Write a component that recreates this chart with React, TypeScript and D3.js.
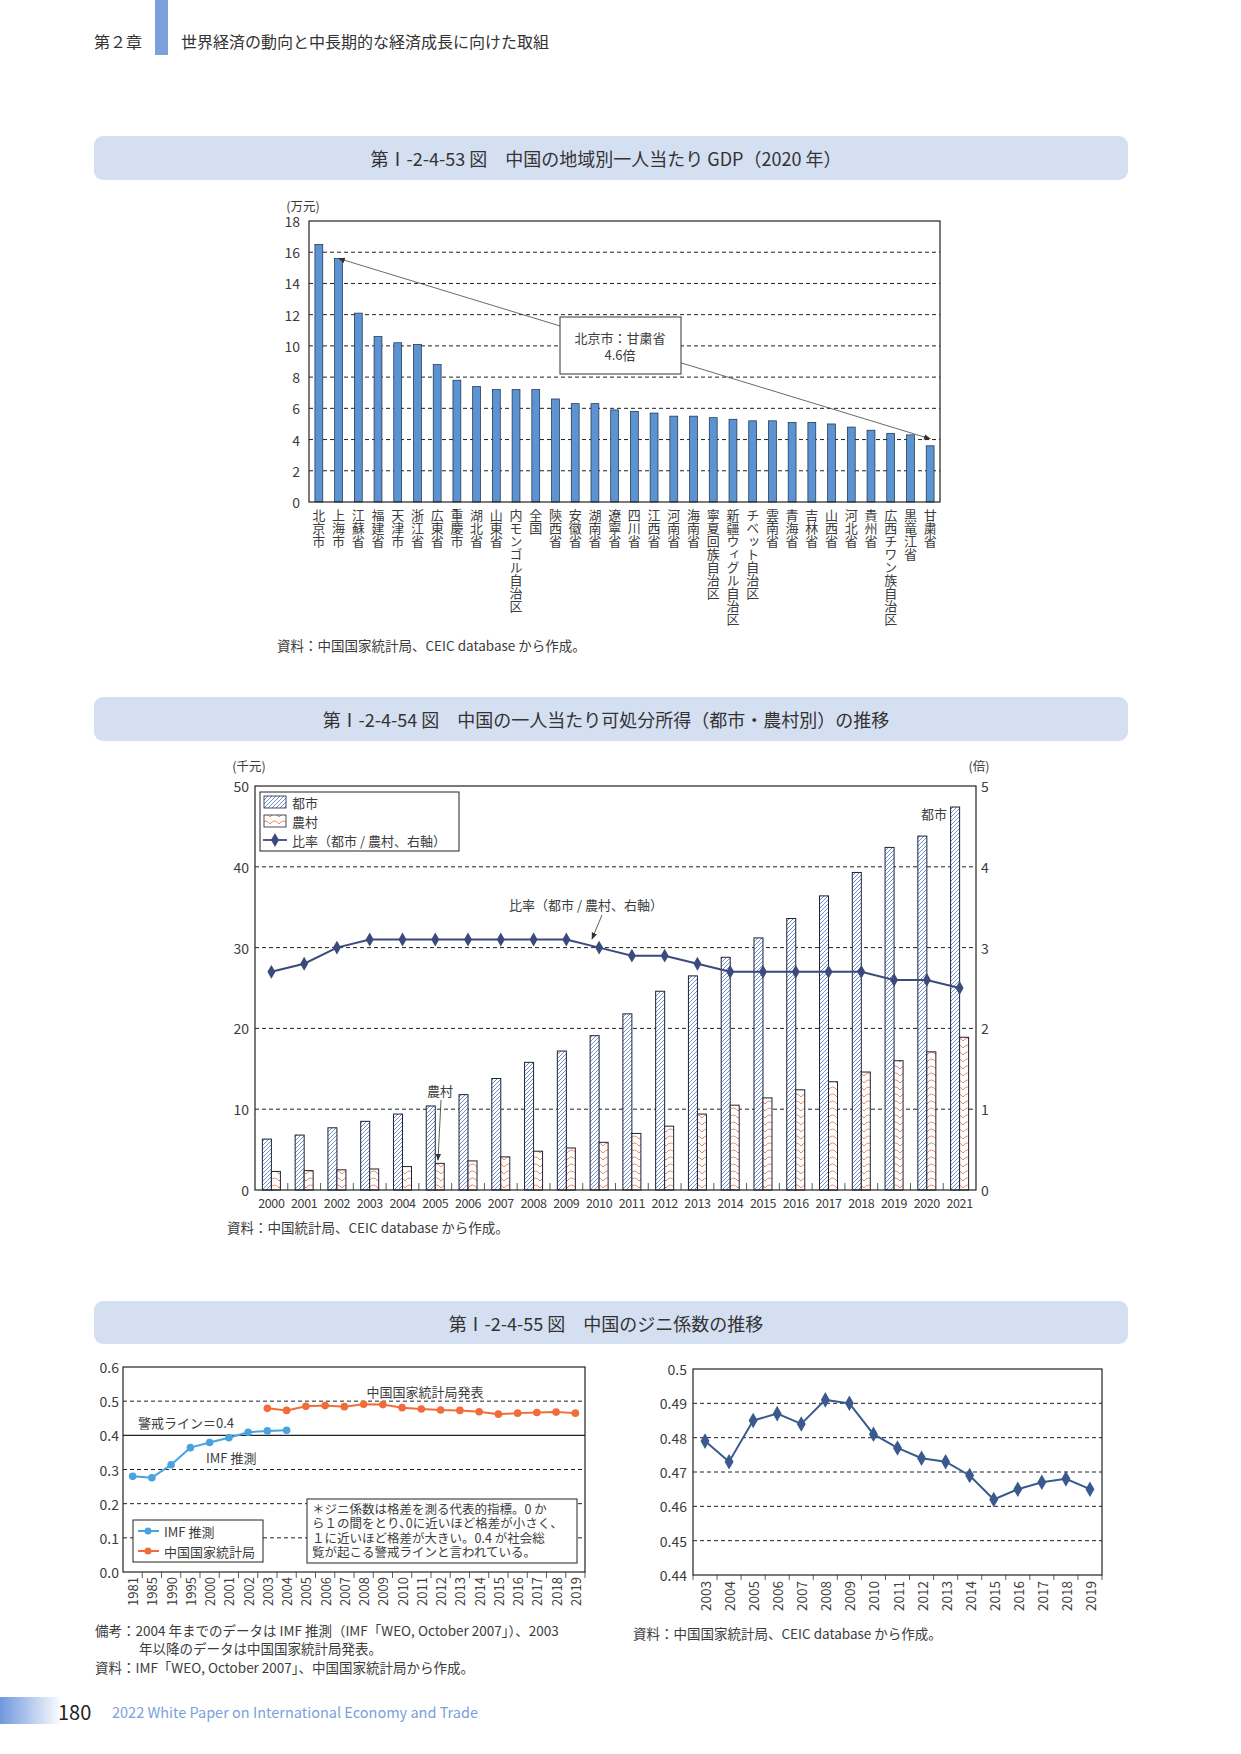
import React from 'react';
import * as d3 from 'd3';

// ---------- Data ----------
const regions = ['北京市','上海市','江蘇省','福建省','天津市','浙江省','広東省','重慶市','湖北省','山東省','内モンゴル自治区','全国','陝西省','安徽省','湖南省','遼寧省','四川省','江西省','河南省','海南省','寧夏回族自治区','新疆ウィグル自治区','チベット自治区','雲南省','青海省','吉林省','山西省','河北省','貴州省','広西チワン族自治区','黒竜江省','甘粛省'];
const gdpValues = [16.5,15.6,12.1,10.6,10.2,10.1,8.8,7.8,7.4,7.2,7.2,7.2,6.6,6.3,6.3,5.9,5.8,5.7,5.5,5.5,5.4,5.3,5.2,5.2,5.1,5.1,5.0,4.8,4.6,4.4,4.3,3.6];
const gdpTicks = [0,2,4,6,8,10,12,14,16,18];

const incomeYears = ['2000','2001','2002','2003','2004','2005','2006','2007','2008','2009','2010','2011','2012','2013','2014','2015','2016','2017','2018','2019','2020','2021'];
const urbanIncome = [6.3,6.8,7.7,8.5,9.4,10.4,11.8,13.8,15.8,17.2,19.1,21.8,24.6,26.5,28.8,31.2,33.6,36.4,39.3,42.4,43.8,47.4];
const ruralIncome = [2.3,2.4,2.5,2.6,2.9,3.3,3.6,4.1,4.8,5.2,5.9,7.0,7.9,9.4,10.5,11.4,12.4,13.4,14.6,16.0,17.1,18.9];
const incomeRatio = [2.7,2.8,3.0,3.1,3.1,3.1,3.1,3.1,3.1,3.1,3.0,2.9,2.9,2.8,2.7,2.7,2.7,2.7,2.7,2.6,2.6,2.5];
const incomeTicksLeft = [0,10,20,30,40,50];
const incomeTicksRight = [0,1,2,3,4,5];

const giniCats = ['1981','1985','1990','1995','2000','2001','2002','2003','2004','2005','2006','2007','2008','2009','2010','2011','2012','2013','2014','2015','2016','2017','2018','2019'];
const imfYears = ['1981','1985','1990','1995','2000','2001','2002','2003','2004'];
const imfGini = [0.280,0.276,0.314,0.364,0.379,0.393,0.409,0.413,0.415];
const nbsYears = ['2003','2004','2005','2006','2007','2008','2009','2010','2011','2012','2013','2014','2015','2016','2017','2018','2019'];
const nbsGini = [0.479,0.473,0.485,0.487,0.484,0.491,0.490,0.481,0.477,0.474,0.473,0.469,0.462,0.465,0.467,0.468,0.465];
const giniTicksLeft = ['0.0','0.1','0.2','0.3','0.4','0.5','0.6'];
const giniTicksRight = ['0.44','0.45','0.46','0.47','0.48','0.49','0.5'];

// ---------- Style ----------
const FONT = "'Noto Sans CJK JP','Noto Sans',sans-serif";
const TXT = '#3c3c3c';
const BAR_BLUE = '#5b93d3';
const NAVY = '#3b4a7c';
const NAVY2 = '#3a5a8e';
const IMF_BLUE = '#4aa3df';
const NBS_ORANGE = '#f26b3a';
const TITLE_BG = '#d5dff2';

function TitleBar({ y, h, text }: { y: number; h: number; text: string }) {
  return (
    <g>
      <rect x={94} y={y} width={1034} height={h} rx={9} fill={TITLE_BG} />
      <text x={606} y={y + h / 2} textAnchor="middle" dominantBaseline="central" fontSize={18} fill="#333">{text}</text>
    </g>
  );
}

function Chart1() {
  const L = 309, R = 940, T = 221, B = 502;
  const x = d3.scaleBand<string>().domain(regions).range([L, R]).paddingInner(0.6).paddingOuter(0.3);
  const y = d3.scaleLinear().domain([0, 18]).range([B, T]);
  const cx = (r: string) => (x(r) as number) + x.bandwidth() / 2;
  const ax1 = cx(regions[1]), ay1 = y(gdpValues[1]);
  const ax2 = cx(regions[regions.length - 1]), ay2 = y(4.05);
  return (
    <g>
      <text x={303} y={205} fontSize={12.5} fill={TXT} textAnchor="middle" dominantBaseline="central">(万元)</text>
      {gdpTicks.map(t => (
        <g key={t}>
          {t > 0 && t < 18 && <line x1={L} x2={R} y1={y(t)} y2={y(t)} stroke="#222" strokeDasharray="4 3" strokeWidth={1} />}
          <text x={L - 9} y={y(t)} textAnchor="end" dominantBaseline="central" fontSize={14} fill={TXT}>{t}</text>
        </g>
      ))}
      {regions.map((r, i) => (
        <rect key={r} x={x(r)} y={y(gdpValues[i])} width={x.bandwidth()} height={B - y(gdpValues[i])} fill={BAR_BLUE} stroke="#1e2a40" strokeWidth={0.7} />
      ))}
      <rect x={L} y={T} width={R - L} height={B - T} fill="none" stroke="#222" strokeWidth={1.2} />
      {regions.map(r => (
        <text key={r} x={cx(r)} y={509} fontSize={13} fill={TXT} style={{ writingMode: 'vertical-rl', textOrientation: 'upright' } as any}>{r}</text>
      ))}
      <line x1={ax1} y1={ay1} x2={ax2} y2={ay2} stroke="#444" strokeWidth={0.8} markerStart="url(#arrowS)" markerEnd="url(#arrowE)" />
      <rect x={560} y={317} width={121} height={57} fill="#fff" stroke="#333" strokeWidth={1} />
      <text x={620} y={337} textAnchor="middle" dominantBaseline="central" fontSize={13} fill={TXT}>北京市：甘粛省</text>
      <text x={620} y={354} textAnchor="middle" dominantBaseline="central" fontSize={13} fill={TXT}>4.6倍</text>
      <text x={277} y={645} dominantBaseline="central" fontSize={13.5} fill={TXT}>資料：中国国家統計局、CEIC database から作成。</text>
    </g>
  );
}

function Chart2() {
  const L = 255, R = 976, T = 786, B = 1190;
  const x = d3.scaleBand<string>().domain(incomeYears).range([L, R]);
  const yL = d3.scaleLinear().domain([0, 50]).range([B, T]);
  const yR = d3.scaleLinear().domain([0, 5]).range([B, T]);
  const bw = 9;
  const cx = (yr: string) => (x(yr) as number) + x.bandwidth() / 2;
  const line = d3.line<number>().x((_, i) => cx(incomeYears[i])).y(d => yR(d));
  const diamond = d3.symbol(d3.symbolDiamond, 55)() as string;
  return (
    <g>
      <text x={249} y={765} fontSize={12.5} fill={TXT} textAnchor="middle" dominantBaseline="central">(千元)</text>
      <text x={979} y={765} fontSize={12.5} fill={TXT} textAnchor="middle" dominantBaseline="central">(倍)</text>
      {incomeTicksLeft.map(t => (
        <g key={t}>
          {t > 0 && t < 50 && <line x1={L} x2={R} y1={yL(t)} y2={yL(t)} stroke="#222" strokeDasharray="4 3" />}
          <text x={L - 6} y={yL(t)} textAnchor="end" dominantBaseline="central" fontSize={14} fill={TXT}>{t}</text>
        </g>
      ))}
      {incomeTicksRight.map(t => (
        <text key={t} x={R + 5} y={yR(t)} dominantBaseline="central" fontSize={14} fill={TXT}>{t}</text>
      ))}
      {incomeYears.map((yr, i) => (
        <g key={yr}>
          <rect x={cx(yr) - bw} y={yL(urbanIncome[i])} width={bw} height={B - yL(urbanIncome[i])} fill="url(#hatchBlue)" stroke="#1c2233" strokeWidth={1} />
          <rect x={cx(yr)} y={yL(ruralIncome[i])} width={bw} height={B - yL(ruralIncome[i])} fill="url(#waveOrange)" stroke="#1c2233" strokeWidth={1} />
        </g>
      ))}
      {incomeYears.slice(1).map(yr => (
        <line key={yr} x1={x(yr)} x2={x(yr)} y1={B} y2={B - 7} stroke="#333" strokeWidth={0.8} />
      ))}
      <path d={line(incomeRatio) as string} fill="none" stroke={NAVY} strokeWidth={2} />
      {incomeYears.map((yr, i) => (
        <path key={yr} d={diamond} transform={`translate(${cx(yr)},${yR(incomeRatio[i])})`} fill={NAVY} />
      ))}
      <rect x={L} y={T} width={R - L} height={B - T} fill="none" stroke="#222" strokeWidth={1.2} />
      {incomeYears.map(yr => (
        <text key={yr} x={cx(yr)} y={1202} textAnchor="middle" dominantBaseline="central" fontSize={12.5} fill={TXT} letterSpacing={-0.4}>{yr}</text>
      ))}
      {/* legend */}
      <rect x={260} y={792} width={199} height={59} fill="#fff" stroke="#222" strokeWidth={1} />
      <rect x={264} y={796} width={22} height={12} fill="url(#hatchBlue)" stroke="#1c2233" strokeWidth={0.8} />
      <text x={292} y={802} dominantBaseline="central" fontSize={13} fill={TXT}>都市</text>
      <rect x={264} y={815} width={22} height={12} fill="url(#waveOrange)" stroke="#1c2233" strokeWidth={0.8} />
      <text x={292} y={821} dominantBaseline="central" fontSize={13} fill={TXT}>農村</text>
      <line x1={263} x2={287} y1={840} y2={840} stroke={NAVY} strokeWidth={1.8} />
      <path d={diamond} transform="translate(275,840)" fill={NAVY} />
      <text x={292} y={840} dominantBaseline="central" fontSize={13} fill={TXT}>比率（都市 / 農村、右軸）</text>
      {/* annotations */}
      <text x={934} y={813} textAnchor="middle" dominantBaseline="central" fontSize={13} fill={TXT}>都市</text>
      <text x={586} y={904} textAnchor="middle" dominantBaseline="central" fontSize={13} fill={TXT}>比率（都市 / 農村、右軸）</text>
      <line x1={602} y1={915} x2={592} y2={939} stroke="#333" strokeWidth={0.8} markerEnd="url(#arrowE)" />
      <text x={440} y={1090} textAnchor="middle" dominantBaseline="central" fontSize={13} fill={TXT}>農村</text>
      <line x1={441} y1={1100} x2={438} y2={1160} stroke="#333" strokeWidth={0.8} markerEnd="url(#arrowE)" />
      <text x={227} y={1227} dominantBaseline="central" fontSize={13.5} fill={TXT}>資料：中国統計局、CEIC database から作成。</text>
    </g>
  );
}

function Chart3() {
  const L = 123, R = 585, T = 1367, B = 1572;
  const x = d3.scaleBand<string>().domain(giniCats).range([L, R]);
  const y = d3.scaleLinear().domain([0, 0.6]).range([B, T]);
  const cx = (c: string) => (x(c) as number) + x.bandwidth() / 2;
  const imfLine = d3.line<number>().x((_, i) => cx(imfYears[i])).y(d => y(d));
  const nbsLine = d3.line<number>().x((_, i) => cx(nbsYears[i])).y(d => y(d));
  const noteLines = [
    '＊ジニ係数は格差を測る代表的指標。0 か',
    'ら１の間をとり､0に近いほど格差が小さく、',
    '１に近いほど格差が大きい。0.4 が社会総',
    '覧が起こる警戒ラインと言われている。',
  ];
  return (
    <g>
      {giniTicksLeft.map(t => {
        const v = +t;
        return (
          <g key={t}>
            {v > 0 && v < 0.6 && <line x1={L} x2={R} y1={y(v)} y2={y(v)} stroke="#222" strokeDasharray={v === 0.4 ? undefined : '4 3'} strokeWidth={v === 0.4 ? 1.3 : 1} />}
            <text x={L - 4} y={y(v)} textAnchor="end" dominantBaseline="central" fontSize={14} fill={TXT}>{t}</text>
          </g>
        );
      })}
      <path d={imfLine(imfGini) as string} fill="none" stroke={IMF_BLUE} strokeWidth={2} />
      {imfYears.map((c, i) => <circle key={c} cx={cx(c)} cy={y(imfGini[i])} r={3.8} fill={IMF_BLUE} />)}
      <path d={nbsLine(nbsGini) as string} fill="none" stroke={NBS_ORANGE} strokeWidth={2} />
      {nbsYears.map((c, i) => <circle key={c} cx={cx(c)} cy={y(nbsGini[i])} r={3.8} fill={NBS_ORANGE} />)}
      <rect x={L} y={T} width={R - L} height={B - T} fill="none" stroke="#222" strokeWidth={1.2} />
      {giniCats.map(c => (
        <g key={c}>
          <line x1={(x(c) as number) + x.bandwidth()} x2={(x(c) as number) + x.bandwidth()} y1={B} y2={B + 6} stroke="#333" strokeWidth={0.8} />
          <text transform={`translate(${cx(c)},${B + 5}) rotate(-90)`} textAnchor="end" dominantBaseline="central" fontSize={13} fill={TXT}>{c}</text>
        </g>
      ))}
      <text x={425} y={1391} textAnchor="middle" dominantBaseline="central" fontSize={13} fill={TXT}>中国国家統計局発表</text>
      <text x={138} y={1422} dominantBaseline="central" fontSize={13} fill={TXT}>警戒ライン＝0.4</text>
      <text x={206} y={1457} dominantBaseline="central" fontSize={13} fill={TXT}>IMF 推測</text>
      {/* legend */}
      <rect x={133} y={1520} width={130} height={42} fill="#fff" stroke="#222" strokeWidth={1} />
      <line x1={138} x2={159} y1={1531} y2={1531} stroke={IMF_BLUE} strokeWidth={2} />
      <circle cx={148} cy={1531} r={3.5} fill={IMF_BLUE} />
      <text x={164} y={1531} dominantBaseline="central" fontSize={13} fill={TXT}>IMF 推測</text>
      <line x1={138} x2={159} y1={1551} y2={1551} stroke={NBS_ORANGE} strokeWidth={2} />
      <circle cx={148} cy={1551} r={3.5} fill={NBS_ORANGE} />
      <text x={164} y={1551} dominantBaseline="central" fontSize={13} fill={TXT}>中国国家統計局</text>
      {/* note box */}
      <rect x={307} y={1499} width={270} height={64} fill="#fff" stroke="#222" strokeWidth={1} />
      <text fontSize={12.5} fill={TXT}>
        {noteLines.map((ln, i) => (
          <tspan key={i} x={312} y={1514 + i * 14.3}>{ln}</tspan>
        ))}
      </text>
      <text x={95} y={1630} dominantBaseline="central" fontSize={13.5} fill={TXT}>備考：2004 年までのデータは IMF 推測（IMF「WEO, October 2007」）、2003</text>
      <text x={139} y={1648} dominantBaseline="central" fontSize={13.5} fill={TXT}>年以降のデータは中国国家統計局発表。</text>
      <text x={95} y={1667} dominantBaseline="central" fontSize={13.5} fill={TXT}>資料：IMF「WEO, October 2007」、中国国家統計局から作成。</text>
    </g>
  );
}

function Chart4() {
  const L = 693, R = 1102, T = 1369, B = 1575;
  const x = d3.scaleBand<string>().domain(nbsYears).range([L, R]);
  const y = d3.scaleLinear().domain([0.44, 0.5]).range([B, T]);
  const cx = (c: string) => (x(c) as number) + x.bandwidth() / 2;
  const line = d3.line<number>().x((_, i) => cx(nbsYears[i])).y(d => y(d));
  const diamond = d3.symbol(d3.symbolDiamond, 70)() as string;
  return (
    <g>
      {giniTicksRight.map(t => {
        const v = +t;
        return (
          <g key={t}>
            {v > 0.44 && v < 0.5 && <line x1={L} x2={R} y1={y(v)} y2={y(v)} stroke="#222" strokeDasharray="4 3" />}
            <text x={L - 6} y={y(v)} textAnchor="end" dominantBaseline="central" fontSize={14} fill={TXT}>{t}</text>
          </g>
        );
      })}
      <path d={line(nbsGini) as string} fill="none" stroke={NAVY2} strokeWidth={2} />
      {nbsYears.map((c, i) => (
        <path key={c} d={diamond} transform={`translate(${cx(c)},${y(nbsGini[i])})`} fill={NAVY2} />
      ))}
      <rect x={L} y={T} width={R - L} height={B - T} fill="none" stroke="#222" strokeWidth={1.2} />
      {nbsYears.map((c, i) => (
        <g key={c}>
          <line x1={x(c) as number} x2={x(c) as number} y1={B} y2={B + 5} stroke="#333" strokeWidth={0.8} />
          {i === nbsYears.length - 1 && <line x1={R} x2={R} y1={B} y2={B + 5} stroke="#333" strokeWidth={0.8} />}
          <text transform={`translate(${cx(c)},${B + 6}) rotate(-90)`} textAnchor="end" dominantBaseline="central" fontSize={13.5} fill={TXT}>{c}</text>
        </g>
      ))}
      <text x={633} y={1633} dominantBaseline="central" fontSize={13.5} fill={TXT}>資料：中国国家統計局、CEIC database から作成。</text>
    </g>
  );
}

export default function App() {
  return (
    <svg width={1241} height={1754} viewBox="0 0 1241 1754" style={{ position: 'absolute', left: 0, top: 0, background: '#fff' }} fontFamily={FONT}>
      <defs>
        <pattern id="hatchBlue" patternUnits="userSpaceOnUse" width={4} height={4}>
          <rect width={4} height={4} fill="#fff" />
          <path d="M-1,1 l2,-2 M0,4 l4,-4 M3,5 l2,-2" stroke="#5f82cc" strokeWidth={0.9} />
        </pattern>
        <pattern id="waveOrange" patternUnits="userSpaceOnUse" width={9} height={7}>
          <rect width={9} height={7} fill="#fff" />
          <path d="M0,5 Q4.5,-1 9,5" fill="none" stroke="#f07a50" strokeWidth={0.9} />
        </pattern>
        <marker id="arrowE" viewBox="0 0 10 10" refX={9} refY={5} markerWidth={7} markerHeight={7} orient="auto" markerUnits="userSpaceOnUse">
          <path d="M0,1 L10,5 L0,9 Z" fill="#333" />
        </marker>
        <marker id="arrowS" viewBox="0 0 10 10" refX={1} refY={5} markerWidth={7} markerHeight={7} orient="auto" markerUnits="userSpaceOnUse">
          <path d="M10,1 L0,5 L10,9 Z" fill="#333" />
        </marker>
        <linearGradient id="footGrad" x1="0" x2="1" y1="0" y2="0">
          <stop offset="0" stopColor="#6f98dc" />
          <stop offset="1" stopColor="#ffffff" />
        </linearGradient>
      </defs>
      {/* header */}
      <text x={94} y={41} dominantBaseline="central" fontSize={16} fill="#333">第２章</text>
      <rect x={155} y={0} width={13} height={55} fill="#7ca0db" />
      <text x={181} y={41} dominantBaseline="central" fontSize={16} fill="#333">世界経済の動向と中長期的な経済成長に向けた取組</text>

      <TitleBar y={136} h={44} text="第Ⅰ-2-4-53 図　中国の地域別一人当たり GDP（2020 年）" />
      <Chart1 />
      <TitleBar y={697} h={44} text="第Ⅰ-2-4-54 図　中国の一人当たり可処分所得（都市・農村別）の推移" />
      <Chart2 />
      <TitleBar y={1301} h={43} text="第Ⅰ-2-4-55 図　中国のジニ係数の推移" />
      <Chart3 />
      <Chart4 />

      {/* footer */}
      <rect x={0} y={1697} width={62} height={27} fill="url(#footGrad)" />
      <text x={58} y={1711} dominantBaseline="central" fontSize={20} fill="#222">180</text>
      <text x={112} y={1711} dominantBaseline="central" fontSize={14.5} fill="#7b9fdc">2022 White Paper on International Economy and Trade</text>
    </svg>
  );
}
